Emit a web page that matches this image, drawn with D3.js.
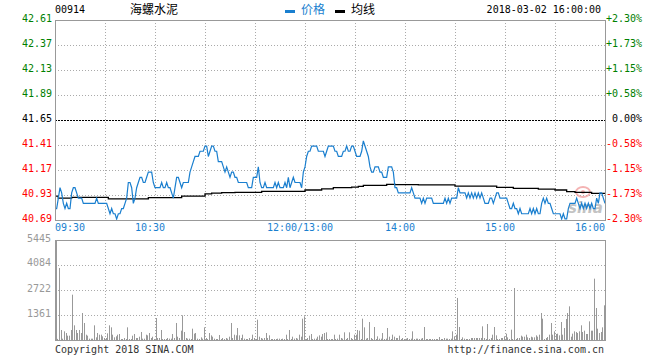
<!DOCTYPE html>
<html><head><meta charset="utf-8">
<script src="https://cdn.jsdelivr.net/npm/d3@7/dist/d3.min.js"></script>
<style>body{margin:0;background:#fff}svg{display:block}</style>
</head><body><svg id="c" width="660" height="360"></svg>
<script>
const stockCode = "00914";
const stockName = "海螺水泥";
const stamp = "2018-03-02 16:00:00";
const legendNames = ["价格", "均线"];
const prevClose = 41.65;
const priceTicks = [42.61, 42.37, 42.13, 41.89, 41.65, 41.41, 41.17, 40.93, 40.69];
const pctTicks = ["+2.30%", "+1.73%", "+1.15%", "+0.58%", "0.00%", "-0.58%", "-1.15%", "-1.73%", "-2.30%"];
const volTicks = [5445, 4084, 2722, 1361];
const timeLabels = ["09:30", "10:30", "12:00/13:00", "14:00", "15:00", "16:00"];
const timeLabelMinutes = [0, 60, 150, 210, 270, 330];

// one price per minute, 09:30 .. 12:00 / 13:00 .. 16:00 (331 points)
const price = [
40.80,40.80,40.90,41.00,40.95,40.85,40.80,40.85,40.80,40.80,
40.95,41.00,41.00,40.95,40.90,40.90,40.90,40.85,40.85,40.85,
40.85,40.85,40.85,40.85,40.85,40.90,40.85,40.85,40.85,40.85,
40.85,40.85,40.80,40.75,40.80,40.75,40.75,40.70,40.75,40.75,
40.80,40.80,40.85,40.90,41.05,41.05,41.00,40.85,40.90,41.00,
41.05,41.10,41.10,41.05,41.05,41.10,41.15,41.15,41.15,41.05,
41.00,41.00,41.00,41.00,41.05,41.00,41.00,41.05,41.00,41.00,
40.95,40.90,41.00,41.10,41.10,41.05,41.00,41.05,41.05,41.05,
41.05,41.15,41.20,41.25,41.30,41.30,41.30,41.35,41.35,41.35,
41.40,41.40,41.30,41.35,41.40,41.40,41.35,41.35,41.25,41.25,
41.25,41.20,41.15,41.20,41.15,41.10,41.15,41.15,41.10,41.10,
41.05,41.05,41.05,41.05,41.05,41.05,41.00,41.00,41.00,41.10,
41.10,41.10,41.20,41.05,41.00,41.00,41.05,41.00,41.00,41.00,
41.00,41.00,41.05,41.00,41.05,41.00,41.00,41.00,41.05,41.00,
41.10,41.00,41.05,41.10,41.05,41.05,41.05,41.05,41.00,41.15,
41.20,41.30,41.35,41.35,41.40,41.40,41.40,41.40,41.35,41.35,
41.35,41.35,41.30,41.35,41.40,41.40,41.40,41.40,41.35,41.35,
41.30,41.30,41.30,41.35,41.35,41.40,41.35,41.35,41.40,41.40,
41.35,41.30,41.30,41.30,41.35,41.45,41.40,41.35,41.30,41.20,
41.15,41.15,41.20,41.20,41.20,41.15,41.15,41.10,41.10,41.10,
41.20,41.20,41.20,41.15,41.00,41.00,40.95,40.95,40.95,40.95,
40.95,40.95,40.95,40.95,41.00,40.95,40.90,40.90,40.90,40.90,
40.85,40.90,40.85,40.90,40.90,40.90,40.90,40.85,40.85,40.85,
40.85,40.85,40.85,40.85,40.90,40.85,40.90,40.85,40.90,40.90,
40.90,40.90,41.00,40.95,40.95,40.95,40.95,40.90,40.95,40.90,
40.95,40.90,40.95,40.90,40.95,40.90,40.95,40.90,40.85,40.85,
40.85,40.90,40.90,40.85,40.90,40.95,40.95,40.90,40.90,40.90,
40.90,40.90,40.85,40.80,40.80,40.85,40.80,40.80,40.75,40.80,
40.75,40.75,40.75,40.75,40.75,40.80,40.75,40.80,40.75,40.80,
40.75,40.75,40.85,40.90,40.85,40.90,40.85,40.85,40.80,40.75,
40.75,40.75,40.75,40.75,40.70,40.75,40.70,40.70,40.80,40.85,
40.85,40.85,40.85,40.90,40.85,40.80,40.85,40.80,40.85,40.80,
40.85,40.80,40.85,40.80,40.80,40.90,40.85,40.95,40.95,40.90,
40.85
];

// average price line: minute where the value changes, and the value
const avgMinutes = [0, 2, 10, 32, 56, 76, 90, 94, 100, 108, 124, 150, 160, 167, 178, 182, 185, 199, 204, 218, 240, 265, 275, 290, 300, 307, 312, 322, 330];
const avgValues = [40.92, 40.90, 40.908, 40.892, 40.904, 40.92, 40.94, 40.948, 40.952, 40.956, 40.965, 40.978, 40.988, 41.00, 41.005, 41.013, 41.023, 41.032, 41.03, 41.028, 41.016, 41.003, 40.994, 40.987, 40.978, 40.962, 40.956, 40.946, 40.946];

// volume per minute
const volume = [
5445,60,3920,545,73,472,381,236,236,545,
2468,799,545,381,545,381,1470,926,290,236,
73,73,73,799,145,381,290,290,200,109,
109,363,799,690,290,145,200,290,327,54,
54,109,54,690,54,54,236,327,109,109,
181,436,73,73,290,254,381,109,181,54,
1198,109,109,545,54,54,54,109,73,73,
327,109,926,181,109,508,1343,436,109,73,
73,54,617,345,381,73,54,145,73,690,
109,54,381,254,181,73,54,54,272,54,
109,54,109,73,181,926,109,290,254,653,
254,109,290,73,54,54,109,54,290,109,
54,1107,181,109,73,109,381,109,254,54,
54,54,54,73,73,54,73,54,290,54,
545,54,181,73,109,73,290,181,1162,1289,
54,109,236,327,54,73,73,181,254,181,
327,381,418,54,54,54,54,290,54,73,
290,109,73,418,54,109,418,109,54,290,
290,545,508,54,1162,690,73,109,980,109,
54,708,54,200,73,73,381,54,73,653,
181,54,290,181,109,109,236,54,109,54,
73,109,54,73,472,54,73,73,54,73,
109,708,54,54,54,54,54,54,54,54,
163,54,54,109,73,73,54,73,472,200,
290,2290,708,54,145,73,54,54,54,109,
109,109,109,109,109,109,744,109,54,871,
54,109,290,708,254,54,54,109,109,200,
345,145,54,563,54,2831,54,109,109,236,
181,181,290,145,109,181,145,145,254,181,
290,1470,1162,54,109,163,290,926,290,472,
327,345,254,980,290,653,1144,1470,1833,181,
345,472,436,381,472,799,436,508,327,327,
1016,508,508,3340,1742,617,381,436,690,1888
];

const svg = d3.select("#c");
const W = 660, H = 360;
const L = 55, R = 605, PT = 20, PB = 220, VT = 240, VB = 340;
const mono = "'DejaVu Sans Mono', monospace";
const cjk = "'Noto Sans CJK SC', sans-serif";
const blue = "#1a7fcf", green = "#008000", red = "#ff0000", gray = "#999999";

svg.append("rect").attr("width", W).attr("height", H).attr("fill", "#fff");

const x = d3.scaleLinear().domain([0, 330]).range([L, R]);
const y = d3.scaleLinear().domain([priceTicks[priceTicks.length - 1], priceTicks[0]]).range([PB, PT]);
const yv = d3.scaleLinear().domain([0, volTicks[0]]).range([VB, VT]);
const crisp = v => Math.round(v) + 0.5;

// header
svg.append("text").attr("x", 55).attr("y", 13).attr("font-family", mono).attr("font-size", 10).attr("fill", "#000").text(stockCode);
svg.append("text").attr("x", 130).attr("y", 14).attr("font-family", cjk).attr("font-size", 12).attr("fill", "#000").text(stockName);
svg.append("rect").attr("x", 285).attr("y", 10).attr("width", 10).attr("height", 3).attr("fill", blue);
svg.append("text").attr("x", 301).attr("y", 14).attr("font-family", cjk).attr("font-size", 12).attr("fill", blue).text(legendNames[0]);
svg.append("rect").attr("x", 335).attr("y", 10).attr("width", 10).attr("height", 3).attr("fill", "#000");
svg.append("text").attr("x", 351).attr("y", 14).attr("font-family", cjk).attr("font-size", 12).attr("fill", "#000").text(legendNames[1]);
svg.append("text").attr("x", 601).attr("y", 13).attr("text-anchor", "end").attr("font-family", mono).attr("font-size", 10).attr("fill", "#000").text(stamp);

// grids
const gridMinutes = d3.range(30, 330, 30);
const g = svg.append("g").attr("fill", "none");
gridMinutes.forEach(m => {
  g.append("line").attr("x1", crisp(x(m))).attr("x2", crisp(x(m))).attr("y1", PT).attr("y2", PB)
    .attr("stroke", "#aaa").attr("stroke-dasharray", "1,2");
  g.append("line").attr("x1", crisp(x(m))).attr("x2", crisp(x(m))).attr("y1", VT).attr("y2", VB)
    .attr("stroke", "#aaa").attr("stroke-dasharray", "1,2");
});
priceTicks.slice(1, -1).forEach(t => {
  const isBase = t === prevClose;
  g.append("line").attr("x1", L).attr("x2", R).attr("y1", crisp(y(t))).attr("y2", crisp(y(t)))
    .attr("stroke", isBase ? "#000" : "#aaa").attr("stroke-dasharray", isBase ? "2,1" : "1,2");
});
volTicks.slice(1).forEach(t => {
  g.append("line").attr("x1", L).attr("x2", R).attr("y1", crisp(yv(t))).attr("y2", crisp(yv(t)))
    .attr("stroke", "#aaa").attr("stroke-dasharray", "1,2");
});

// watermark
const wm = svg.append("g").attr("opacity", 0.75);
wm.append("ellipse").attr("cx", 583).attr("cy", 192).attr("rx", 7).attr("ry", 5).attr("fill", "none").attr("stroke", "#f19a9a").attr("stroke-width", 2);
wm.append("circle").attr("cx", 583).attr("cy", 192).attr("r", 2).attr("fill", "#f19a9a");
wm.append("text").attr("x", 568).attr("y", 213).attr("font-family", "'DejaVu Sans', sans-serif").attr("font-style", "italic").attr("font-weight", "bold").attr("font-size", 15).attr("fill", "#b0b0b0").text("sina");

// volume bars
svg.append("g").selectAll("rect").data(volume).join("rect")
  .attr("x", (d, i) => Math.floor(x(i)) + 1).attr("width", 1)
  .attr("y", d => yv(d)).attr("height", d => VB - yv(d))
  .attr("fill", "#999");

// avg line
const avgPts = avgMinutes.map((m, i) => [m, avgValues[i]]);
svg.append("path").datum(avgPts)
  .attr("d", d3.line().x(d => x(d[0])).y(d => y(d[1])).curve(d3.curveStepAfter))
  .attr("fill", "none").attr("stroke", "#000").attr("stroke-width", 1.3);

// price line
svg.append("path").datum(price)
  .attr("d", d3.line().x((d, i) => x(i)).y(d => y(d)))
  .attr("fill", "none").attr("stroke", blue).attr("stroke-width", 1.2);

// borders
svg.append("rect").attr("x", L + 0.5).attr("y", PT + 0.5).attr("width", R - L).attr("height", PB - PT)
  .attr("fill", "none").attr("stroke", "#999");
svg.append("rect").attr("x", L + 0.5).attr("y", VT + 0.5).attr("width", R - L).attr("height", VB - VT)
  .attr("fill", "none").attr("stroke", "#999");

// axis labels
const tickColor = t => t > prevClose ? green : (t < prevClose ? red : "#000");
priceTicks.forEach((t, i) => {
  svg.append("text").attr("x", 52).attr("y", y(t) + 1.5).attr("text-anchor", "end")
    .attr("font-family", mono).attr("font-size", 10).attr("fill", tickColor(t)).text(t.toFixed(2));
  svg.append("text").attr("x", 642).attr("y", y(t) + 1.5).attr("text-anchor", "end")
    .attr("font-family", mono).attr("font-size", 10).attr("fill", tickColor(t)).text(pctTicks[i]);
});
volTicks.forEach(t => {
  svg.append("text").attr("x", 51).attr("y", yv(t) + 1.5).attr("text-anchor", "end")
    .attr("font-family", mono).attr("font-size", 10).attr("fill", gray).text(t);
});
timeLabels.forEach((s, i) => {
  const last = i === timeLabels.length - 1, first = i === 0;
  svg.append("text")
    .attr("x", first || last ? x(timeLabelMinutes[i]) : x(timeLabelMinutes[i]) - 5)
    .attr("y", 231)
    .attr("text-anchor", first ? "start" : last ? "end" : "middle")
    .attr("font-family", mono).attr("font-size", 10).attr("fill", blue).text(s);
});

// footer
svg.append("text").attr("x", 55).attr("y", 353).attr("font-family", mono).attr("font-size", 10).attr("fill", "#333").text("Copyright 2018 SINA.COM");
svg.append("text").attr("x", 604).attr("y", 353).attr("text-anchor", "end").attr("font-family", mono).attr("font-size", 10).attr("fill", "#333").text("http://finance.sina.com.cn");
</script>
</body></html>
